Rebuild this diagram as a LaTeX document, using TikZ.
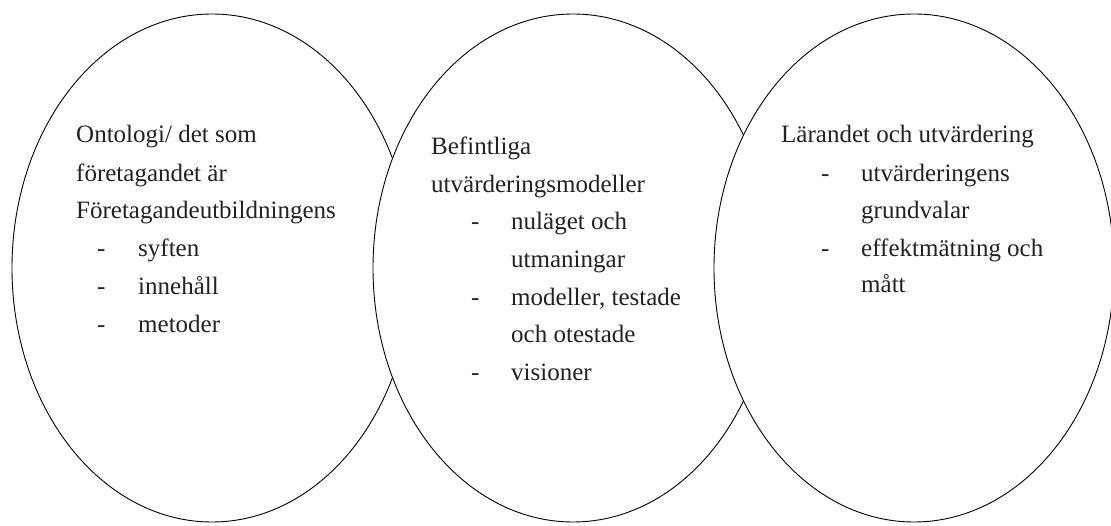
\documentclass[tikz,border=0pt]{standalone}
\usepackage{fontspec}
\setmainfont{Liberation Serif}
\usetikzlibrary{shapes.geometric}
\definecolor{ink}{HTML}{222222}
\tikzset{
  oval/.style={ellipse, draw=black, fill=white, line width=0.9pt, minimum width=400pt, minimum height=508pt, inner sep=0pt},
  txt/.style={anchor=base west, inner sep=0pt, text=ink, font=\fontsize{25}{29}\selectfont},
}
\begin{document}
\begin{tikzpicture}[x=1pt,y=-1pt]
\useasboundingbox (0,0) rectangle (1111,526);
\begin{scope}
\clip (0,0) rectangle (1111,526);
\node[oval] (e1) at (212,268) {};
\node[oval] (e2) at (573,268) {};
\node[oval] (e3) at (914,268) {};
\end{scope}
% ellipse 1
\node[txt] (a1) at (76,143) {Ontologi/ det som};
\node[txt] (a2) at (76,182) {företagandet är};
\node[txt] (a3) at (76,219) {Företagandeutbildningens};
\node[txt] (a4d) at (97,257) {-};
\node[txt] (a4) at (138,257) {syften};
\node[txt] (a5d) at (97,295) {-};
\node[txt] (a5) at (138,295) {innehåll};
\node[txt] (a6d) at (97,333) {-};
\node[txt] (a6) at (138,333) {metoder};
% ellipse 2
\node[txt] (b1) at (431,155) {Befintliga};
\node[txt] (b2) at (431,193) {utvärderingsmodeller};
\node[txt] (b3d) at (471,230) {-};
\node[txt] (b3) at (511,230) {nuläget och};
\node[txt] (b4) at (511,268) {utmaningar};
\node[txt] (b5d) at (471,306) {-};
\node[txt] (b5) at (511,306) {modeller, testade};
\node[txt] (b6) at (511,343) {och otestade};
\node[txt] (b7d) at (471,381) {-};
\node[txt] (b7) at (511,381) {visioner};
% ellipse 3
\node[txt] (c1) at (781,143) {Lärandet och utvärdering};
\node[txt] (c2d) at (821,182) {-};
\node[txt] (c2) at (861,182) {utvärderingens};
\node[txt] (c3) at (861,219) {grundvalar};
\node[txt] (c4d) at (821,257) {-};
\node[txt] (c4) at (861,257) {effektmätning och};
\node[txt] (c5) at (861,293) {mått};
\end{tikzpicture}
\end{document}
